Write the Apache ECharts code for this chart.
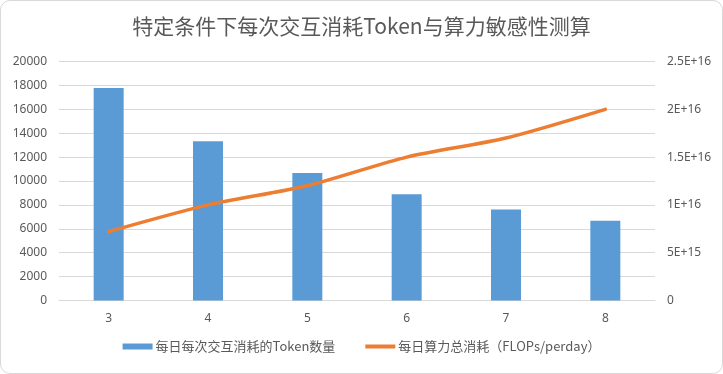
<!DOCTYPE html>
<html>
<head>
<meta charset="utf-8">
<script src="https://cdn.jsdelivr.net/npm/echarts@6/dist/echarts.min.js"></script>
<style>
  html, body { margin: 0; padding: 0; background: #fff; }
  #chart { width: 723px; height: 374px; box-sizing: border-box; border: 1px solid #d9d9d9; border-radius: 10px; overflow: hidden; }
</style>
</head>
<body>
<div id="chart"></div>
<script>
const categories = ['3', '4', '5', '6', '7', '8'];
const tokenValues = [17778, 13333, 10667, 8889, 7619, 6667];
const flopsValues = [7.2e15, 1.0e16, 1.2e16, 1.5e16, 1.7e16, 2.0e16];
const titleText = '特定条件下每次交互消耗Token与算力敏感性测算';
const barName = '每日每次交互消耗的Token数量';
const lineName = '每日算力总消耗（FLOPs/perday）';

function sciFmt(v) {
  if (v === 0) return '0';
  const e = Math.floor(Math.log10(v) + 1e-9);
  const m = Math.round(v / Math.pow(10, e) * 100) / 100;
  return m + 'E+' + e;
}

const chart = echarts.init(document.getElementById('chart'), null, { renderer: 'canvas' });
const font = '"Noto Sans", "Noto Sans CJK SC", sans-serif';
chart.setOption({
  animation: false,
  textStyle: { fontFamily: font },
  title: {
    text: titleText,
    left: 'center',
    top: 10,
    textStyle: { fontSize: 21, fontWeight: 'normal', color: '#595959', fontFamily: '"Noto Sans CJK SC", sans-serif' }
  },
  legend: {
    bottom: 15,
    left: 'center',
    itemWidth: 30,
    itemHeight: 6,
    itemGap: 30,
    textStyle: { fontSize: 13, color: '#595959', fontFamily: '"Noto Sans CJK SC", sans-serif', padding: [0, 0, 0, -2] },
    data: [
      { name: barName, icon: 'rect' },
      { name: lineName, icon: 'path://M0,0h0.01v0.01h-0.01z M0,1h30v4h-30z M0,5.99h0.01v0.01h-0.01z', itemStyle: { color: '#ED7D31' } }
    ]
  },
  grid: { left: 58, right: 67, top: 60.5, bottom: 72.5, containLabel: false },
  xAxis: {
    type: 'category',
    data: categories,
    axisLine: { lineStyle: { color: '#d9d9d9' } },
    axisTick: { show: false },
    axisLabel: { color: '#595959', fontSize: 12, margin: 12 }
  },
  yAxis: [
    {
      type: 'value',
      min: 0, max: 20000, interval: 2000,
      axisLine: { show: false },
      axisTick: { show: false },
      axisLabel: { color: '#595959', fontSize: 12, margin: 12, formatter: function (v) { return String(v); } },
      splitLine: { lineStyle: { color: '#d9d9d9', width: 1 } }
    },
    {
      type: 'value',
      min: 0, max: 2.5e16, interval: 2.5e15,
      axisLine: { show: false },
      axisTick: { show: false },
      splitLine: { show: false },
      axisLabel: {
        color: '#595959', fontSize: 12, margin: 12,
        formatter: function (v) { return (Math.round(v / 2.5e15) % 2 === 0) ? sciFmt(v) : ''; }
      }
    }
  ],
  series: [
    {
      name: barName,
      type: 'bar',
      data: tokenValues,
      barWidth: 30,
      itemStyle: { color: '#5B9BD5' }
    },
    {
      name: lineName,
      type: 'line',
      yAxisIndex: 1,
      data: flopsValues,
      smooth: 0.25,
      symbol: 'none',
      lineStyle: { color: '#ED7D31', width: 3.5, cap: 'round' },
      itemStyle: { color: '#ED7D31' }
    }
  ]
});
</script>
</body>
</html>
